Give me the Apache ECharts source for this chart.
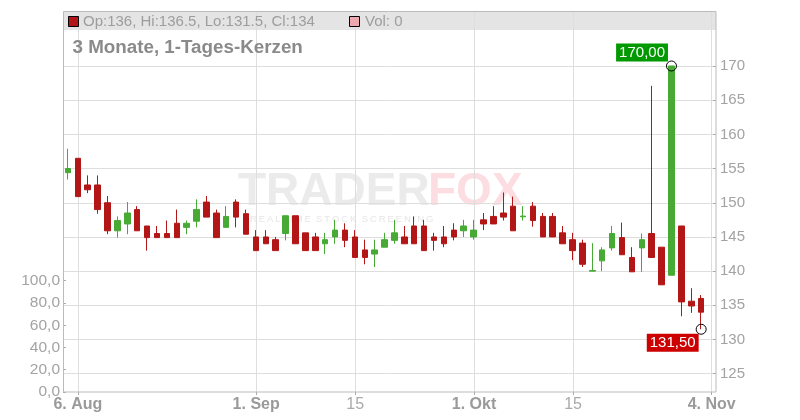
<!DOCTYPE html>
<html><head><meta charset="utf-8">
<script src="https://cdn.jsdelivr.net/npm/echarts@6/dist/echarts.min.js"></script>
<style>html,body{margin:0;padding:0;background:#fff}#c{width:800px;height:420px}</style>
</head><body><div id="c"></div>
<script>
// Trading days (categories), 5 Aug – 4 Nov
const dates = [
 '05.08.','06.08.','07.08.','08.08.','11.08.','12.08.','13.08.','14.08.','15.08.',
 '18.08.','19.08.','20.08.','21.08.','22.08.','25.08.','26.08.','27.08.','28.08.','29.08.',
 '01.09.','02.09.','03.09.','04.09.','05.09.','08.09.','09.09.','10.09.','11.09.','12.09.',
 '15.09.','16.09.','17.09.','18.09.','19.09.','22.09.','23.09.','24.09.','25.09.','26.09.',
 '29.09.','30.09.','01.10.','02.10.','03.10.','06.10.','07.10.','08.10.','09.10.','10.10.',
 '13.10.','14.10.','15.10.','16.10.','17.10.','20.10.','21.10.','22.10.','23.10.','24.10.',
 '27.10.','28.10.','29.10.','30.10.','31.10.','03.11.','04.11.'
];
const opens  = [154.4,156.5,152.6,152.6,150.0,145.9,146.9,149.0,146.6,145.5,145.5,147.0,146.4,147.3,150.1,148.5,146.4,150.1,148.4,
 145.0,145.0,144.6,145.5,148.1,145.6,145.0,144.0,145.0,146.0,145.0,143.1,142.5,143.5,144.5,145.0,146.6,146.6,145.0,145.0,146.0,145.9,
 145.0,147.5,148.0,148.5,149.5,147.95,149.5,148.0,148.0,145.6,144.6,144.1,140.0,141.5,143.4,144.9,142.0,143.4,145.5,143.5,139.4,146.6,135.6,136.0];
const closes = [155.0,150.9,151.9,149.0,145.9,147.4,148.5,145.9,144.9,144.9,144.9,144.9,147.0,149.0,147.9,144.9,148.0,147.9,145.4,
 143.0,144.0,143.0,148.1,144.0,143.0,143.0,144.6,146.0,144.5,142.0,142.0,143.1,144.6,145.6,144.0,144.0,143.0,144.5,144.0,145.0,146.6,
 146.0,146.9,146.9,147.9,145.9,148.05,147.4,145.0,145.0,144.0,143.0,141.0,140.1,143.1,145.5,142.4,139.9,144.6,142.0,138.0,170.0,135.5,134.9,134.0];
const lows   = [153.4,150.9,151.4,148.4,145.4,144.9,145.4,145.9,143.0,144.9,144.9,144.9,145.4,146.4,147.9,144.9,146.4,146.4,145.4,
 143.0,144.0,143.0,144.5,144.0,143.0,143.0,142.5,144.0,143.5,142.0,141.0,140.6,143.5,144.0,144.0,144.0,143.0,143.0,143.5,144.5,145.0,
 144.6,146.0,146.9,147.4,145.9,147.4,146.5,145.0,145.0,144.0,141.6,140.6,140.0,140.0,143.0,142.4,139.9,139.9,142.0,138.0,139.4,133.4,133.9,131.5];
const highs  = [157.9,156.5,154.0,154.0,151.0,148.0,150.1,149.5,146.6,146.6,147.4,149.0,147.4,150.5,151.0,149.0,149.5,150.5,149.0,
 146.0,146.0,145.0,148.1,148.1,145.6,145.6,145.6,147.5,147.0,146.0,144.6,144.6,145.6,147.5,146.6,148.0,147.5,145.6,146.6,147.0,147.5,
 147.5,148.5,149.5,151.5,150.9,149.5,150.1,148.5,148.5,146.6,145.6,144.6,144.1,143.5,146.6,147.1,143.5,145.5,167.1,143.5,170.0,146.6,137.5,136.5];
const volumes = [0,0,0,0,0,0,0,0,0,0,0,0,0,0,0,0,0,0,0,0,0,0,0,0,0,0,0,0,0,0,0,0,0,
 0,0,0,0,0,0,0,0,0,0,0,0,0,0,0,0,0,0,0,0,0,0,0,0,0,0,0,0,0,0,0,0,0];
const tickDates  = ['06.08.','01.09.','15.09.','01.10.','15.10.','04.11.'];
const tickLabels = ['6. Aug','1. Sep','15','1. Okt','15','4. Nov'];
const boldLabels = [true,true,false,true,false,true];
const maxMark = {date:'29.10.', value:170.00, text:'170,00'};
const minMark = {date:'03.11.', value:131.50, text:'131,50'};
const last = {op:136, hi:136.5, lo:131.5, cl:134, vol:0};

const RED = '#b31616', GREEN = '#46aa34', GRID = '#dedede', FRAME = '#bbbbbb';
const FONT = '"Liberation Sans", Arial, sans-serif';

const candleData = opens.map((o,i)=>[o, closes[i], lows[i], highs[i]]);
const isTick = (idx, val) => tickDates.indexOf(val) >= 0;
const spaced = (s) => s.split('').join('\u2009');

const chart = echarts.init(document.getElementById('c'), null, {renderer:'canvas'});
chart.setOption({
  animation:false,
  backgroundColor:'#fff',
  textStyle:{fontFamily:FONT},
  grid:[
    {left:68, right:88.3, top:12, bottom:28},
    {left:63, right:84, top:31.8, bottom:46.3},
    {left:63, right:84, top:280.7, bottom:28}
  ],
  xAxis:[
    {gridIndex:0, type:'category', data:dates, boundaryGap:false,
     axisLine:{show:false},
     axisTick:{show:true, interval:isTick, length:3, lineStyle:{color:'#aaa'}},
     axisLabel:{interval:isTick, margin:5,
       formatter:(v)=>{const k=tickDates.indexOf(v); return boldLabels[k]?'{b|'+tickLabels[k]+'}':'{n|'+tickLabels[k]+'}';},
       rich:{b:{fontWeight:'bold',fontSize:16,color:'#9a9a9a',fontFamily:FONT},
             n:{fontSize:16,color:'#aaaaaa',fontFamily:FONT}}},
     splitLine:{show:true, interval:isTick, lineStyle:{color:GRID, width:1}}},
    {gridIndex:1, type:'category', data:dates, boundaryGap:true, show:false},
    {gridIndex:2, type:'category', data:dates, boundaryGap:true, show:false}
  ],
  yAxis:[
    {gridIndex:0, type:'value', show:false, splitLine:{show:false}},
    {gridIndex:1, type:'value', position:'right', min:125, max:175, interval:5,
     axisLine:{show:false},
     axisTick:{show:true, inside:true, length:3, lineStyle:{color:'#aaa'}},
     axisLabel:{color:'#a3a3a3', fontSize:15, margin:4, showMaxLabel:false,
       formatter:(v)=> v>=175 ? '' : String(v)},
     splitLine:{show:true, showMaxLine:false, lineStyle:{color:GRID, width:1}}},
    {gridIndex:2, type:'value', position:'left', min:0, max:100, interval:20,
     axisLine:{show:false},
     axisTick:{show:true, inside:true, length:3, lineStyle:{color:'#aaa'}},
     axisLabel:{color:'#a3a3a3', fontSize:15.5, margin:3,
       formatter:(v)=> v.toFixed(1).replace('.',',')},
     splitLine:{show:false}}
  ],
  series:[
    {type:'bar', xAxisIndex:2, yAxisIndex:2, data:volumes, itemStyle:{color:'#f0a8b0'}, barWidth:6},
    {type:'candlestick', xAxisIndex:1, yAxisIndex:1, data:candleData, barWidth:6,
     itemStyle:{color:GREEN, color0:RED, borderColor:GREEN, borderColor0:RED, borderWidth:1},
     markPoint:{
       symbol:'circle', symbolSize:10,
       itemStyle:{color:'rgba(0,0,0,0)', borderColor:'#000', borderWidth:1},
       data:[
         {coord:[maxMark.date, maxMark.value],
          label:{show:true, formatter:maxMark.text, position:[2,1], align:'right', verticalAlign:'bottom',
                 backgroundColor:'#009a00', color:'#fff', fontSize:15, padding:[2,3,1,3], fontFamily:FONT}},
         {coord:[minMark.date, minMark.value],
          label:{show:true, formatter:minMark.text, position:[3,10], align:'right', verticalAlign:'top',
                 backgroundColor:'#cc0000', color:'#fff', fontSize:15, padding:[2,3,1,3], fontFamily:FONT}}
       ]
     }}
  ],
  graphic:[
    {type:'rect', z:-10, silent:true, shape:{x:63, y:12, width:653, height:18}, style:{fill:'#e4e4e4'}},
    {type:'text', z:-5, silent:true, style:{text:'TRADER', x:238, y:192, verticalAlign:'middle',
       font:'bold 46px '+FONT, fill:'#ebebeb'}},
    {type:'text', z:-5, silent:true, style:{text:'FOX', x:428, y:192, verticalAlign:'middle',
       font:'bold 46px '+FONT, fill:'#fcdde1'}},
    {type:'text', z:-5, silent:true, style:{text:spaced('REALTIME')+'  '+spaced('STOCK')+'  '+spaced('SCREENING'), x:250, y:219, verticalAlign:'middle',
       font:'9.5px '+FONT, fill:'#e6e6e6'}},
    {type:'rect', z:50, silent:true, shape:{x:63.5, y:11.5, width:652.5, height:380.5},
       style:{fill:'none', stroke:FRAME, lineWidth:1}},
    {type:'rect', z:50, silent:true, shape:{x:68.5, y:16.5, width:10, height:10}, style:{fill:RED, stroke:'#000', lineWidth:1}},
    {type:'text', z:50, silent:true, style:{text:'Op:'+last.op+', Hi:'+last.hi+', Lo:'+last.lo+', Cl:'+last.cl,
       x:83, y:21.5, verticalAlign:'middle', font:'15px '+FONT, fill:'#9d9d9d'}},
    {type:'rect', z:50, silent:true, shape:{x:349.5, y:16.5, width:10, height:10}, style:{fill:'#f0a8b0', stroke:'#000', lineWidth:1}},
    {type:'text', z:50, silent:true, style:{text:'Vol: '+last.vol, x:365, y:21.5, verticalAlign:'middle', font:'15px '+FONT, fill:'#9d9d9d'}},
    {type:'text', z:50, silent:true, style:{text:'3 Monate, 1-Tages-Kerzen', x:72.5, y:48, verticalAlign:'middle',
       font:'bold 18.8px '+FONT, fill:'#8a8a8a'}}
  ]
});
</script></body></html>
